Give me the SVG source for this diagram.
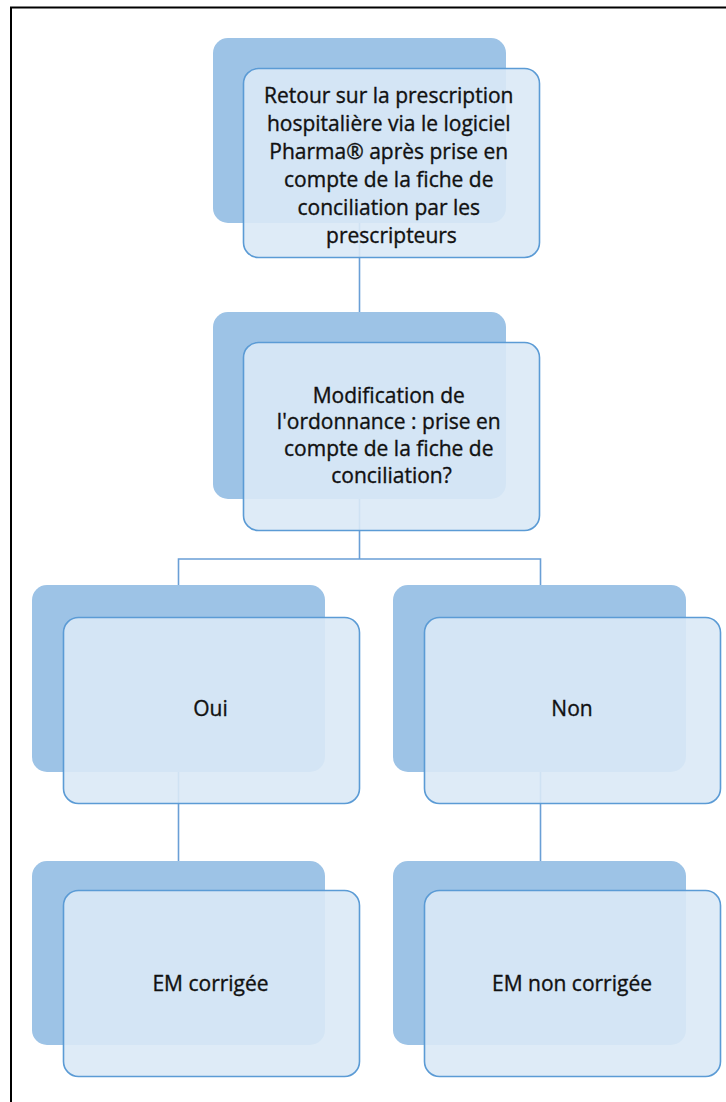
<svg xmlns="http://www.w3.org/2000/svg" width="726" height="1102" viewBox="0 0 726 1102">
<style>
.back{fill:#9DC3E6;}
.front{fill:#DAE9F6;fill-opacity:0.9;stroke:#5B9BD5;stroke-width:1.6;}
.conn{fill:none;stroke:#6A9FD6;stroke-width:1.6;}
.lbl{font-family:"Open Sans","Noto Sans",sans-serif;font-size:21px;fill:#111111;stroke:#111111;stroke-width:0.35;text-anchor:middle;}
</style>
<rect x="0" y="0" width="726" height="1102" fill="#ffffff"/>
<polyline points="11,1102 11,7.5 726,7.5" fill="none" stroke="#000000" stroke-width="2"/>
<g id="connectors">
<line class="conn" x1="359.5" y1="223" x2="359.5" y2="313"/>
<line class="conn" x1="359.5" y1="499" x2="359.5" y2="559"/>
<polyline class="conn" points="178.5,585 178.5,559 540.5,559 540.5,585"/>
<line class="conn" x1="178.5" y1="772" x2="178.5" y2="862"/>
<line class="conn" x1="540.5" y1="772" x2="540.5" y2="862"/>
</g>
<g id="node-retour">
<rect class="back" x="213" y="38" width="293" height="185" rx="15"/>
<rect class="front" x="243.5" y="68.5" width="296" height="189" rx="15"/>
<text class="lbl">
<tspan x="391.5" y="102.5">Retour sur la prescription</tspan>
<tspan x="391.5" y="130.6">hospitalière via le logiciel</tspan>
<tspan x="391.5" y="158.7">Pharma® après prise en</tspan>
<tspan x="391.5" y="186.8">compte de la fiche de</tspan>
<tspan x="391.5" y="214.9">conciliation par les</tspan>
<tspan x="391.5" y="243">prescripteurs</tspan>
</text>
</g>
<g id="node-modification">
<rect class="back" x="213" y="312" width="293" height="187" rx="15"/>
<rect class="front" x="243.5" y="342.5" width="296" height="188" rx="15"/>
<text class="lbl">
<tspan x="391.5" y="402.5">Modification de</tspan>
<tspan x="391.5" y="429.2">l'ordonnance : prise en</tspan>
<tspan x="391.5" y="455.9">compte de la fiche de</tspan>
<tspan x="391.5" y="482.6">conciliation?</tspan>
</text>
</g>
<g id="node-oui">
<rect class="back" x="32" y="585" width="293" height="187" rx="15"/>
<rect class="front" x="63.5" y="617.5" width="296" height="186" rx="15"/>
<text class="lbl" x="210.5" y="716">Oui</text>
</g>
<g id="node-non">
<rect class="back" x="393" y="585" width="293" height="187" rx="15"/>
<rect class="front" x="424.5" y="617.5" width="296" height="186" rx="15"/>
<text class="lbl" x="572" y="716">Non</text>
</g>
<g id="node-em-corrigee">
<rect class="back" x="32" y="861" width="293" height="184" rx="15"/>
<rect class="front" x="63.5" y="890.5" width="296" height="186" rx="15"/>
<text class="lbl" x="210.5" y="990.5">EM corrigée</text>
</g>
<g id="node-em-non-corrigee">
<rect class="back" x="393" y="861" width="293" height="184" rx="15"/>
<rect class="front" x="424.5" y="890.5" width="296" height="186" rx="15"/>
<text class="lbl" x="572" y="990.5">EM non corrigée</text>
</g>
</svg>
